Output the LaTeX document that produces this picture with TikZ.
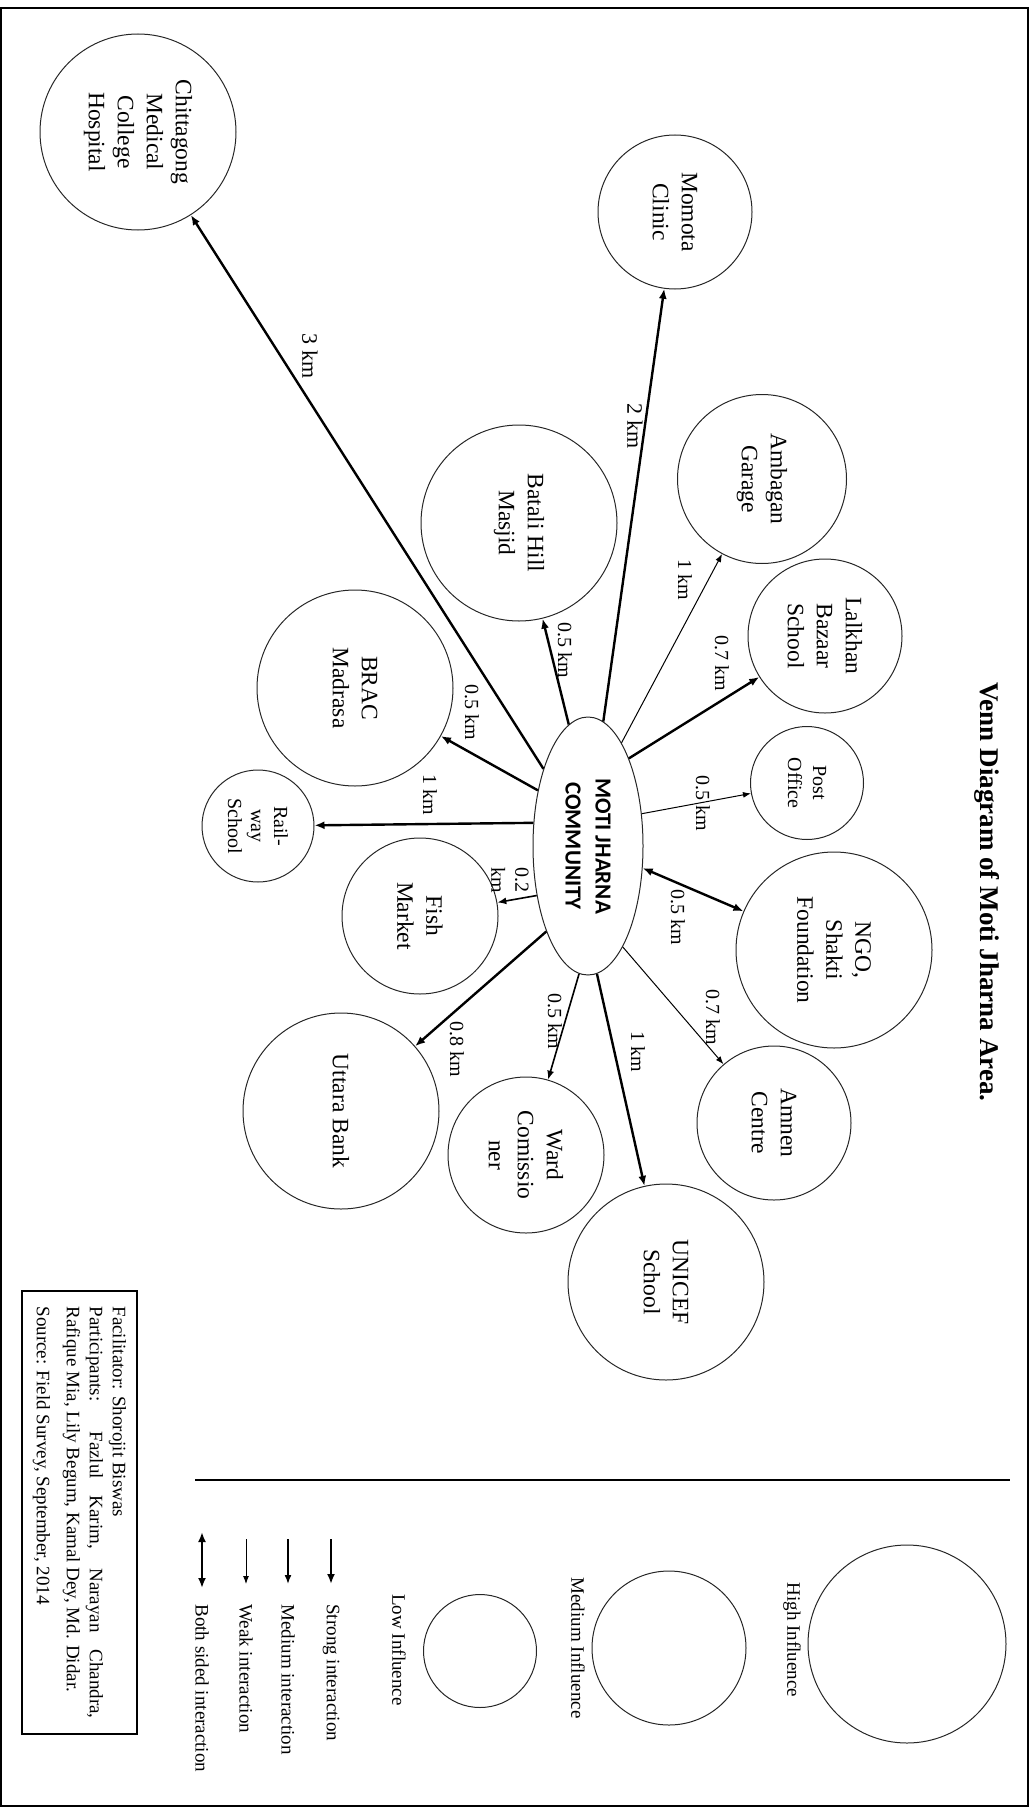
\documentclass[tikz,border=0pt]{standalone}
\usepackage{fontspec}
\setmainfont{Liberation Serif}
\newfontfamily\commfont{Carlito}
\usetikzlibrary{arrows.meta, shapes.geometric}

\tikzset{
  place/.style={circle, draw=black!85, line width=0.5pt, inner sep=0pt, align=center,
    rotate=-90, font=\fontsize{11.75}{14.5}\selectfont},
  smallplace/.style={place, font=\fontsize{10}{11.5}\selectfont},
  dist/.style={rotate=-90, inner sep=0pt, align=center, font=\fontsize{10}{12}\selectfont},
  key/.style={rotate=-90, inner sep=0pt, font=\fontsize{9.5}{11}\selectfont},
  keyring/.style={circle, draw=black!85, line width=0.5pt, inner sep=0pt},
  stronglink/.style={line width=1.2pt, -{Latex[length=5pt,width=4pt]}},
  mediumlink/.style={line width=0.8pt, -{Latex[length=4.5pt,width=3.5pt]}},
  weaklink/.style={line width=0.5pt, -{Latex[length=4pt,width=3pt]}},
  bothlink/.style={line width=1.2pt, {Latex[length=5pt,width=4pt]}-{Latex[length=5pt,width=4pt]}},
}

\begin{document}
\begin{tikzpicture}[x=0.5pt, y=-0.5pt]
  \useasboundingbox (0,0) rectangle (1034,1809);
  \draw[line width=0.8pt] (1,8) rectangle (1028,1806);

  \node[rotate=-90, font=\bfseries\fontsize{13.5}{16}\selectfont] (title) at (987,892)
    {Venn Diagram of Moti Jharna Area.};

  % community in the middle
  \node[ellipse, draw=black!85, line width=0.5pt, rotate=-90, minimum width=129pt,
    minimum height=55pt, inner sep=0pt, align=center,
    font=\commfont\bfseries\fontsize{11.5}{15}\selectfont] (moti) at (588,846)
    {MOTI JHARNA\\COMMUNITY};

  % institutions around it
  \node[place, minimum size=98pt]   (chittagong) at (138,132)  {Chittagong\\Medical\\College\\Hospital};
  \node[place, minimum size=77pt]   (momota)     at (675,212)  {Momota\\Clinic};
  \node[place, minimum size=98pt]   (batali)     at (519,523)  {Batali Hill\\Masjid};
  \node[place, minimum size=84.5pt] (ambagan)    at (762,479)  {Ambagan\\Garage};
  \node[place, minimum size=77pt]   (lalkhan)    at (825,636)  {Lalkhan\\Bazaar\\School};
  \node[place, minimum size=98pt]   (brac)       at (355,688)  {BRAC\\Madrasa};
  \node[smallplace, minimum size=56.5pt, font=\fontsize{10}{12.5}\selectfont]
                                    (post)       at (807,783)  {Post\\Office};
  \node[smallplace, minimum size=56pt] (rail)    at (258,826)  {Rail-\\way\\School};
  \node[place, minimum size=78pt]   (fish)       at (420,916)  {Fish\\Market};
  \node[place, minimum size=98pt]   (ngo)        at (834,950)  {NGO,\\Shakti\\Foundation};
  \node[place, minimum size=77pt]   (amnen)      at (774,1123) {Amnen\\Centre};
  \node[place, minimum size=78pt]   (ward)       at (526,1155) {Ward\\Comissio\\ner};
  \node[place, minimum size=98pt]   (uttara)     at (341,1111) {Uttara Bank};
  \node[place, minimum size=98pt]   (unicef)     at (666,1282) {UNICEF\\School};

  % interactions
  \draw[stronglink] (moti.210) -- (chittagong);
  \draw[stronglink] (moti.189) -- (batali);
  \draw[stronglink] (moti.173) -- (momota);
  \draw[weaklink]   (moti.162) -- (ambagan);
  \draw[stronglink] (moti.155) -- (lalkhan);
  \draw[weaklink]   (moti.121) -- (post);
  \draw[bothlink]   (moti.68)  -- (ngo);
  \draw[weaklink]   (moti.19)  -- (amnen);
  \draw[stronglink] (moti.4)   -- (unicef);
  \draw[mediumlink] (moti.356) -- (ward);
  \draw[stronglink] (moti.334) -- (uttara);
  \draw[mediumlink] (moti.314) -- (fish);
  \draw[stronglink] (moti.247) -- (rail);
  \draw[stronglink] (moti.222) -- (brac);

  % distances
  \node[dist, font=\fontsize{11}{13}\selectfont] (dchitta) at (310,356) {3 km};
  \node[dist, font=\fontsize{11}{13}\selectfont] (dmomota) at (635,426) {2 km};
  \node[dist] (dambagan) at (685,580)  {1 km};
  \node[dist] (dlalkhan) at (722,663)  {0.7 km};
  \node[dist] (dpost)    at (703,803)  {0.5 km};
  \node[dist] (dngo)     at (678,917)  {0.5 km};
  \node[dist] (damnen)   at (713,1017) {0.7 km};
  \node[dist] (dunicef)  at (638,1052) {1 km};
  \node[dist] (dward)    at (555,1021) {0.5 km};
  \node[dist] (duttara)  at (457,1049) {0.8 km};
  \node[dist] (dfish)    at (510,880)  {0.2\\km};
  \node[dist] (drail)    at (430,795)  {1 km};
  \node[dist] (dbrac)    at (472,712)  {0.5 km};
  \node[dist] (dbatali)  at (565,650)  {0.5 km};

  % legend
  \coordinate (rulel) at (195,1480);
  \coordinate (ruler) at (1010,1480);
  \draw[line width=1pt] (rulel) -- (ruler);

  \node[keyring, minimum size=99pt]   (keyhigh) at (907,1644) {};
  \node[keyring, minimum size=77pt]   (keymed)  at (669,1648) {};
  \node[keyring, minimum size=56.5pt] (keylow)  at (480,1651) {};
  \node[key] (highlbl) at (792,1640) {High Influence};
  \node[key] (medlbl)  at (578,1648) {Medium Influence};
  \node[key] (lowlbl)  at (399,1650) {Low Influence};

  \coordinate (strongtop) at (331,1539); \coordinate (strongbot) at (331,1584);
  \coordinate (medtop)    at (288,1539); \coordinate (medbot)    at (288,1584);
  \coordinate (weaktop)   at (246,1539); \coordinate (weakbot)   at (246,1584);
  \coordinate (bothtop)   at (202,1532); \coordinate (bothbot)   at (202,1588);
  \draw[stronglink] (strongtop) -- (strongbot);
  \draw[mediumlink] (medtop) -- (medbot);
  \draw[weaklink]   (weaktop) -- (weakbot);
  \draw[bothlink]   (bothtop) -- (bothbot);
  \node[key, anchor=west] (stronglbl) at (331,1604) {Strong interaction};
  \node[key, anchor=west] (medintlbl) at (288,1604) {Medium interaction};
  \node[key, anchor=west] (weaklbl)   at (246,1604) {Weak interaction};
  \node[key, anchor=west] (bothlbl)   at (202,1604) {Both sided interaction};

  % who took part
  \node[draw, line width=0.8pt, rotate=-90, text width=206pt, align=justify,
    inner xsep=7.75pt, inner ysep=0pt, minimum height=57.5pt,
    font=\fontsize{9.5}{11.5}\selectfont] (credits) at (79.5,1512.5)
    {Facilitator: Shorojit Biswas\\
     Participants: Fazlul Karim, Narayan Chandra,\linebreak
     Rafique Mia, Lily Begum, Kamal Dey, Md. Didar.\\[3.5pt]
     Source: Field Survey, September, 2014};
\end{tikzpicture}
\end{document}
